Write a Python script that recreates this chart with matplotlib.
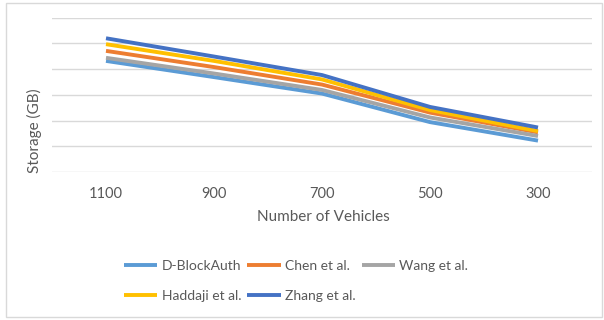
import matplotlib
matplotlib.use("Agg")
import matplotlib.pyplot as plt
from matplotlib.patches import Rectangle

# Data
vehicles = ["1100", "900", "700", "500", "300"]
d_blockauth = [43.2, 36.9, 30.5, 19.4, 12.2]
chen = [47.1, 40.8, 34.0, 23.1, 15.4]
wang = [44.4, 38.3, 31.9, 21.2, 14.0]
haddaji = [49.7, 43.2, 36.0, 24.1, 15.9]
zhang = [52.0, 44.9, 37.7, 25.3, 17.3]

series_names = ["D-BlockAuth", "Chen et al.", "Wang et al.", "Haddaji et al.", "Zhang et al."]
series_values = [d_blockauth, chen, wang, haddaji, zhang]
colors = ["#5B9BD5", "#ED7D31", "#A5A5A5", "#FFC000", "#4472C4"]

plt.rcParams["font.family"] = ["Lato", "DejaVu Sans"]
text_color = "#595959"
grid_color = "#D9D9D9"

W, H = 604, 320
fig = plt.figure(figsize=(W / 100, H / 100), dpi=100)
fig.patch.set_facecolor("white")

# chart border
fig.add_artist(Rectangle((5.5 / W, 3.5 / H), (W - 8) / W, (H - 6) / H,
                         transform=fig.transFigure, fill=False,
                         edgecolor="#D9D9D9", linewidth=1.0))

left, right, top, bottom = 52, 592, 17.7, 172
ax = fig.add_axes([left / W, 1 - bottom / H, (right - left) / W, (bottom - top) / H])

x = list(range(len(vehicles)))
lines = {}
for name, vals, c in zip(series_names, series_values, colors):
    lines[name], = ax.plot(x, vals, color=c, linewidth=2.8, solid_joinstyle="round",
                           solid_capstyle="butt", label=name)

ax.set_xlim(-0.5, len(vehicles) - 0.5)
ax.set_ylim(0, 60)
ax.set_yticks(range(0, 61, 10))
ax.set_yticklabels([])
ax.set_xticks(x)
ax.set_xticklabels(vehicles, fontsize=10.5, color=text_color)
ax.tick_params(axis="both", length=0)
ax.tick_params(axis="x", pad=11)
ax.grid(axis="y", color=grid_color, linewidth=1.0)
ax.set_axisbelow(True)
for s in ax.spines.values():
    s.set_visible(False)

fig.text(323 / W, 1 - 216.7 / H, "Number of Vehicles", ha="center", va="center",
         fontsize=11, color=text_color)
fig.text(34 / W, 1 - 131 / H, "Storage (GB)", ha="center", va="center",
         rotation=90, fontsize=11, color=text_color)

# legend laid out row by row: three entries in the first row, two in the second
legend_order = ["D-BlockAuth", "Haddaji et al.", "Chen et al.", "Zhang et al.", "Wang et al."]
leg = fig.legend([lines[n] for n in legend_order], legend_order, ncol=3, loc="upper left",
                 bbox_to_anchor=(124 / W, 1 - 260 / H),
                 frameon=False, fontsize=10, handlelength=2.4,
                 handletextpad=0.3, columnspacing=0.45, labelspacing=1.3,
                 borderaxespad=0, borderpad=0)
for t in leg.get_texts():
    t.set_color(text_color)

fig.savefig("out.png", dpi=100, facecolor="white")
